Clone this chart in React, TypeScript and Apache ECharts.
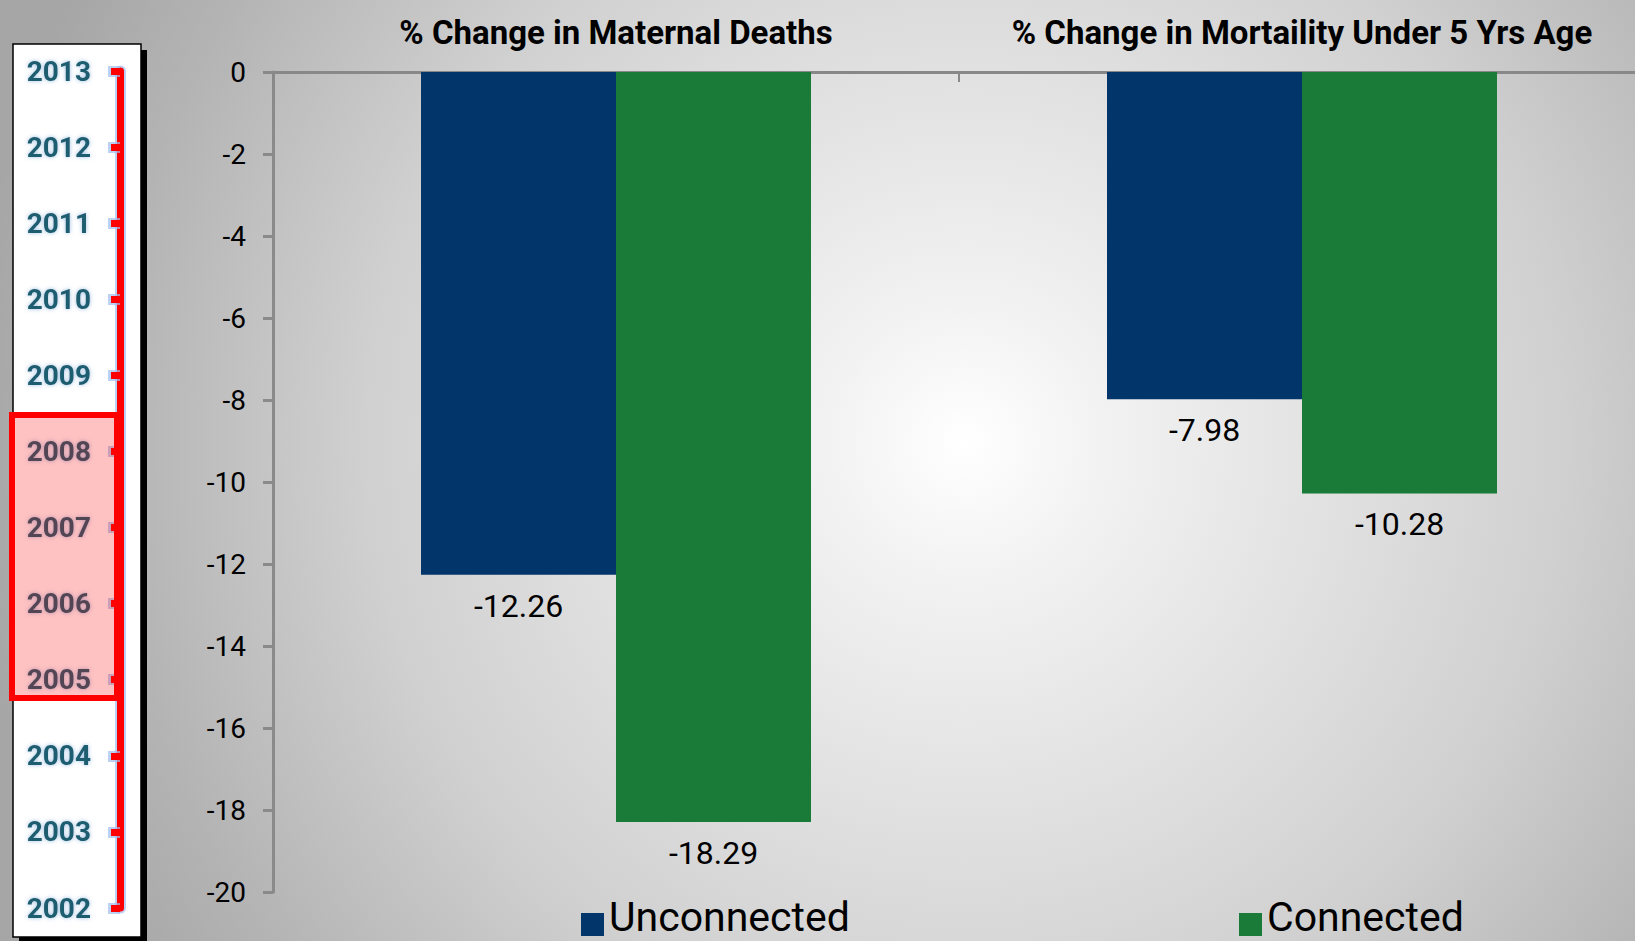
import React, { useEffect, useRef } from "react";
import * as echarts from "echarts";

const categories = ["% Change in Maternal Deaths", "% Change in Mortaility Under 5 Yrs Age"];
const unconnected = [-12.26, -7.98];
const connected = [-18.29, -10.28];
const seriesNames = ["Unconnected", "Connected"];
const years = ["2002", "2003", "2004", "2005", "2006", "2007", "2008", "2009", "2010", "2011", "2012", "2013"];

const W = 1635;
const H = 941;
const CW = 1660;
const FONT = "Roboto, 'Open Sans', sans-serif";
// square legend marker, drawn in the lower part of its box
const LEGEND_ICON = "path://M0,0 L0,0 M0,16 L23,16 L23,39 L0,39 Z";

export default function App() {
  const ref = useRef<HTMLDivElement>(null);
  useEffect(() => {
    document.body.style.margin = "0";
    const chart = echarts.init(ref.current!, null, { renderer: "svg" });
    const yearAxisBase = {
      type: "category",
      gridIndex: 1,
      data: years,
      boundaryGap: false,
      position: "left",
      splitLine: { show: false },
    };
    const legendText = { fontFamily: FONT, fontSize: 41, lineHeight: 34, color: "#000" };
    chart.setOption({
      animation: false,
      backgroundColor: "transparent",
      grid: [
        { left: 273, top: 72, width: 1372, height: 820 },
        { left: 120, top: 71, width: 1, height: 837 },
      ],
      xAxis: [
        {
          type: "category",
          gridIndex: 0,
          data: categories,
          position: "top",
          axisLine: { show: true, lineStyle: { color: "#888888", width: 3 } },
          axisTick: { show: true, inside: true, interval: 0, length: 10, lineStyle: { color: "#888888", width: 2 } },
          axisLabel: {
            show: true,
            interval: 0,
            margin: 23,
            color: "#000",
            fontFamily: FONT,
            fontWeight: "bold",
            fontSize: 33,
          },
          splitLine: { show: false },
        },
        { type: "value", gridIndex: 1, show: false, min: 0, max: 1 },
      ],
      yAxis: [
        {
          type: "value",
          gridIndex: 0,
          min: -20,
          max: 0,
          interval: 2,
          axisLine: { show: true, lineStyle: { color: "#8a8a8a", width: 3 } },
          axisTick: { show: true, length: 10, lineStyle: { color: "#8a8a8a", width: 3 } },
          axisLabel: { color: "#000", fontFamily: FONT, fontSize: 28, margin: 27 },
          splitLine: { show: false },
        },
        {
          ...yearAxisBase,
          axisLine: { show: true, lineStyle: { color: "rgba(160,190,240,0.7)", width: 11 } },
          axisTick: { show: true, length: 12, lineStyle: { color: "rgba(160,190,240,0.7)", width: 11 } },
          axisLabel: { show: false },
        },
        {
          ...yearAxisBase,
          axisLine: { show: true, lineStyle: { color: "#ff0000", width: 7 } },
          axisTick: { show: true, length: 9, lineStyle: { color: "#ff0000", width: 7 } },
          axisLabel: {
            interval: 0,
            color: "#1f5d6f",
            fontFamily: FONT,
            fontWeight: "bold",
            fontSize: 28,
            margin: 29,
            textShadowColor: "rgba(110,160,210,0.7)",
            textShadowBlur: 4,
          },
        },
      ],
      legend: [
        {
          data: [seriesNames[0]],
          left: 581,
          top: 896,
          padding: 0,
          icon: LEGEND_ICON,
          itemWidth: 23,
          itemHeight: 39,
          textStyle: legendText,
        },
        {
          data: [seriesNames[1]],
          left: 1239,
          top: 896,
          padding: 0,
          icon: LEGEND_ICON,
          itemWidth: 23,
          itemHeight: 39,
          textStyle: legendText,
        },
      ],
      graphic: [
        { type: "rect", z: -2, shape: { x: 19, y: 50, width: 128, height: 900 }, style: { fill: "#000" } },
        {
          type: "rect",
          z: -1,
          shape: { x: 13, y: 44, width: 128, height: 893 },
          style: { fill: "#ffffff", stroke: "#000", lineWidth: 1.5 },
        },
        {
          type: "rect",
          z: 100,
          shape: { x: 12, y: 415, width: 105, height: 283 },
          style: { fill: "rgba(255,0,0,0.24)", stroke: "#ff0000", lineWidth: 6 },
        },
      ],
      series: [
        {
          name: seriesNames[0],
          type: "bar",
          xAxisIndex: 0,
          yAxisIndex: 0,
          data: unconnected,
          barWidth: 195,
          barGap: "0%",
          itemStyle: { color: "#02356a" },
          label: {
            show: true,
            position: "bottom",
            distance: 15,
            color: "#000",
            fontFamily: FONT,
            fontSize: 32,
          },
        },
        {
          name: seriesNames[1],
          type: "bar",
          xAxisIndex: 0,
          yAxisIndex: 0,
          data: connected,
          barWidth: 195,
          barGap: "0%",
          itemStyle: { color: "#197b37" },
          label: {
            show: true,
            position: "bottom",
            distance: 15,
            color: "#000",
            fontFamily: FONT,
            fontSize: 32,
          },
        },
      ],
    });
    return () => chart.dispose();
  }, []);
  return (
    <div
      style={{
        width: W,
        height: H,
        overflow: "hidden",
        background:
          "radial-gradient(circle at 59% 47%, #ffffff 0px, #f2f2f2 140px, #d0d0d0 600px, #b4b4b4 850px, #a6a6a6 1000px)",
      }}
    >
      <div ref={ref} style={{ width: CW, height: H }} />
    </div>
  );
}
